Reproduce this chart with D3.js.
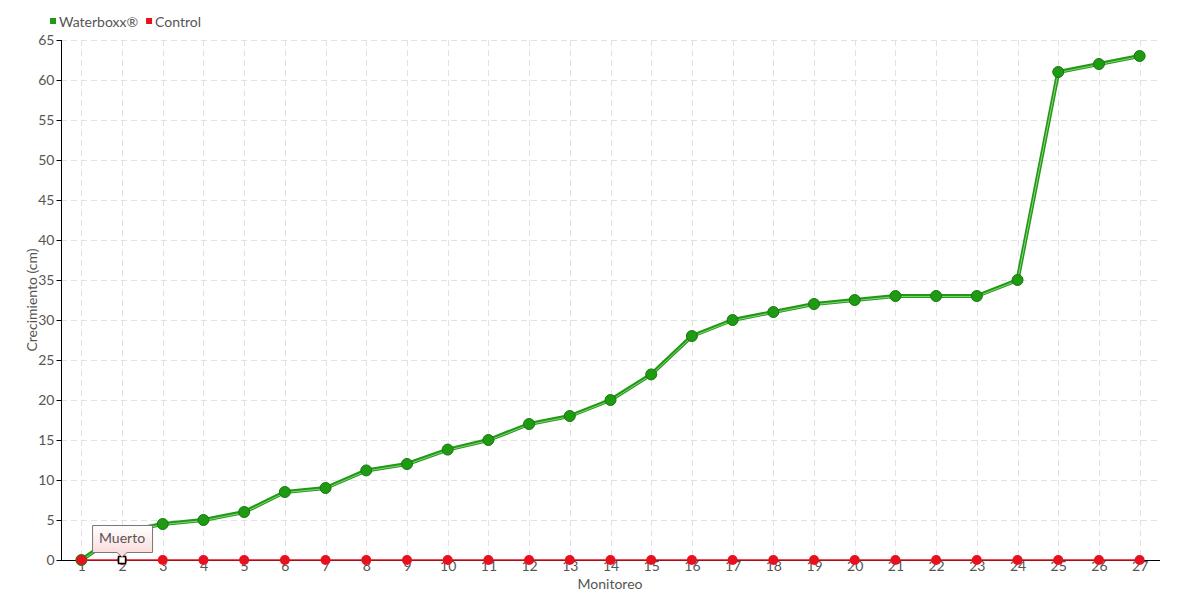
<!DOCTYPE html>
<html><head><meta charset="utf-8">
<script src="https://cdn.jsdelivr.net/npm/d3@7"></script>
<style>
body{margin:0;background:#fff;}
text{font-family:Lato,sans-serif;}
</style></head>
<body><svg id="c" width="1180" height="600"></svg>
<script>
const categories = ["1","2","3","4","5","6","7","8","9","10","11","12","13","14","15","16","17","18","19","20","21","22","23","24","25","26","27"];
const waterboxx = [0,3.5,4.5,5,6,8.5,9,11.2,12,13.8,15,17,18,20,23.2,28,30,31,32,32.5,33,33,33,35,61,62,63];
const control = [0,0,0,0,0,0,0,0,0,0,0,0,0,0,0,0,0,0,0,0,0,0,0,0,0,0,0];
const yTicks = [0,5,10,15,20,25,30,35,40,45,50,55,60,65];
const seriesNames = ["Waterboxx®","Control"];
const tooltipText = "Muerto";

const svg = d3.select("#c");
const L=61, R=1160, T=40, B=560;
const x = d3.scalePoint().domain(categories).range([L,R]).padding(0.5);
const y = d3.scaleLinear().domain([0,65]).range([B,T]);
const green="#1f9a13", red="#e8101e", txt="#555";
const fs = 14;

// grid
const g = svg.append("g");
g.selectAll(".hg").data(yTicks.filter(d=>d>0)).join("line")
 .attr("x1",L).attr("x2",R).attr("y1",d=>y(d)+0.5).attr("y2",d=>y(d)+0.5)
 .attr("stroke","#e2e2e2").attr("stroke-dasharray","6,4");
g.selectAll(".vg").data(categories).join("line")
 .attr("x1",d=>Math.round(x(d))+0.5).attr("x2",d=>Math.round(x(d))+0.5).attr("y1",T).attr("y2",B)
 .attr("stroke","#e2e2e2").attr("stroke-dasharray","6,4");

// axes
const ya = svg.append("g").attr("transform",`translate(${L+0.5},0)`)
 .call(d3.axisLeft(y).tickValues(yTicks).tickSize(5).tickPadding(2));
ya.select(".domain").attr("stroke","#000").attr("d",`M0,${T}V${B}`);
ya.selectAll(".tick line").attr("stroke","#000");
ya.selectAll("text").attr("fill",txt).attr("font-size",fs);

const xa = svg.append("g").attr("transform",`translate(0,${B+0.5})`)
 .call(d3.axisBottom(x).tickSize(0).tickPadding(1));
xa.select(".domain").attr("stroke","#000").attr("d",`M${L},0H${R}`);
xa.selectAll("text").attr("fill",txt).attr("font-size",fs);

svg.append("text").attr("x",610).attr("y",589).attr("text-anchor","middle")
 .attr("fill",txt).attr("font-size",fs).text("Monitoreo");
svg.append("text").attr("transform","translate(37,300) rotate(-90)").attr("text-anchor","middle")
 .attr("fill",txt).attr("font-size",fs).text("Crecimiento (cm)");

// green line
const line = d3.line().x((d,i)=>x(categories[i])).y(d=>y(d));
svg.append("path").datum(waterboxx).attr("d",line).attr("fill","none")
 .attr("stroke",green).attr("stroke-width",4).attr("stroke-linejoin","round");
svg.append("path").datum(waterboxx).attr("d",line).attr("fill","none")
 .attr("stroke","#c9f0c2").attr("stroke-width",0.8).attr("transform","translate(0,0.6)").attr("opacity",0.8);
svg.selectAll(".gp").data(waterboxx).join("circle")
 .attr("cx",(d,i)=>x(categories[i])).attr("cy",d=>y(d)).attr("r",5.5)
 .attr("fill",green).attr("stroke","#16780e").attr("stroke-width",1);

// red line
svg.append("path").datum(control).attr("d",line).attr("fill","none")
 .attr("stroke",red).attr("stroke-width",1.5);
svg.selectAll(".rp").data(control).join("circle")
 .attr("cx",(d,i)=>x(categories[i])).attr("cy",d=>y(d)).attr("r",5)
 .attr("fill",red);

// selected marker at control point 2
const sx = x(categories[1]), sy = y(control[1]);
svg.append("rect").attr("x",sx-3.5).attr("y",sy-3.5).attr("width",7).attr("height",7)
 .attr("fill","#fff").attr("stroke","#000").attr("stroke-width",1.5);

// tooltip
const defs = svg.append("defs");
const gr = defs.append("linearGradient").attr("id","tg").attr("x1",0).attr("y1",0).attr("x2",0).attr("y2",1);
gr.append("stop").attr("offset","0%").attr("stop-color","#fff");
gr.append("stop").attr("offset","100%").attr("stop-color","#fcd6d6");
const tw=60, th=27, tx=sx-30, ty=sy-35;
svg.append("path")
 .attr("d",`M${tx+0.5},${ty+0.5}H${tx+tw+0.5}V${ty+th+0.5}H${sx+5}L${sx},${ty+th+5}L${sx-5},${ty+th+0.5}H${tx+0.5}Z`)
 .attr("fill","url(#tg)").attr("stroke","#777").attr("stroke-width",1);
svg.append("text").attr("x",sx).attr("y",ty+18).attr("text-anchor","middle")
 .attr("fill",txt).attr("font-size",fs).text(tooltipText);

// legend
const leg = svg.append("g");
let lx = 50;
[green,red].forEach((c,i)=>{
  leg.append("rect").attr("x",lx).attr("y",18).attr("width",6).attr("height",6).attr("fill",c);
  const t = leg.append("text").attr("x",lx+9).attr("y",27).attr("fill",txt).attr("font-size",fs).text(seriesNames[i]);
  lx += 9 + t.node().getComputedTextLength() + 8;
});
</script></body></html>
